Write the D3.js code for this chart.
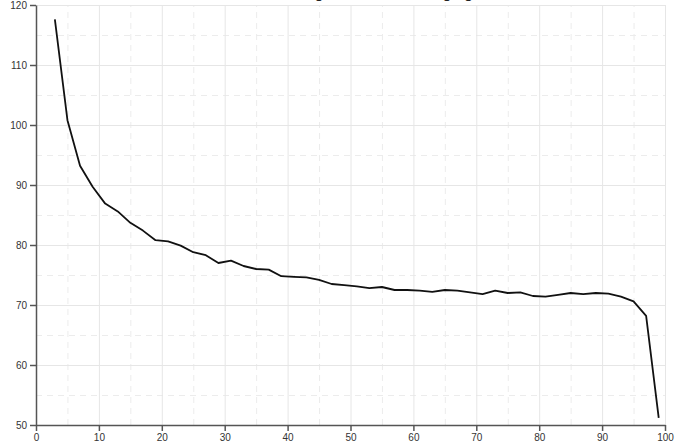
<!DOCTYPE html>
<html>
<head>
<meta charset="utf-8">
<script src="https://d3js.org/d3.v7.min.js"></script>
<style>
    body { margin: 0; background: #fff; }
    svg { display: block; font-family: "Liberation Sans", Arial, sans-serif; }
    .grid line { stroke: #e6e6e6; stroke-width: 1; }
    .grid-minor line { stroke: #ececec; stroke-width: 1; stroke-dasharray: 6,5; }
    .grid path, .grid-minor path { display: none; }
    .axis path, .axis line { stroke: #555; stroke-width: 1.5; }
    .axis text { fill: #333; font-size: 10px; }
</style>
</head>
<body>
<svg></svg>
<script>
const title = 'Resting heart rate with aging';

const xValues = [3, 5, 7, 9, 11, 13, 15, 17, 19, 21, 23, 25, 27, 29, 31, 33, 35, 37, 39, 41,
    43, 45, 47, 49, 51, 53, 55, 57, 59, 61, 63, 65, 67, 69, 71, 73, 75, 77, 79, 81,
    83, 85, 87, 89, 91, 93, 95, 97, 99];
const yValues = [117.6, 100.8, 93.2, 89.7, 86.9, 85.6, 83.7, 82.4, 80.8, 80.6, 79.9, 78.8, 78.3, 77.0, 77.4, 76.5, 76.0, 75.9, 74.8, 74.7,
    74.6, 74.2, 73.5, 73.3, 73.1, 72.8, 73.0, 72.5, 72.5, 72.4, 72.2, 72.5, 72.4, 72.1, 71.8, 72.4, 72.0, 72.1, 71.5, 71.4,
    71.7, 72.0, 71.8, 72.0, 71.9, 71.4, 70.6, 68.2, 51.2];

const xTicks = [0, 10, 20, 30, 40, 50, 60, 70, 80, 90, 100];
const xMinor = [5, 15, 25, 35, 45, 55, 65, 75, 85, 95];
const yTicks = [50, 60, 70, 80, 90, 100, 110, 120];
const yMinor = [55, 65, 75, 85, 95, 105, 115];

function drawChart() {
    const width = 682;
    const height = 447;
    const margin = { top: 5, right: 17, bottom: 22, left: 36 };

    const svg = d3.select('svg')
        .attr('width', width)
        .attr('height', height);

    const xScale = d3.scaleLinear()
        .domain([0, 100])
        .range([margin.left, width - margin.right]);

    const yScale = d3.scaleLinear()
        .domain([50, 120])
        .range([height - margin.bottom, margin.top]);

    // title sits mostly above the visible area, only descenders show
    svg.append('text')
        .attr('x', 371)
        .attr('y', -2)
        .attr('text-anchor', 'middle')
        .style('font-size', '16px')
        .style('fill', '#222')
        .text(title);

    // minor dashed grid
    svg.append('g')
        .attr('class', 'grid-minor')
        .attr('transform', `translate(0, ${height - margin.bottom})`)
        .call(d3.axisBottom(xScale)
            .tickValues(xMinor)
            .tickSize(-(height - margin.top - margin.bottom))
            .tickFormat(''));

    svg.append('g')
        .attr('class', 'grid-minor')
        .attr('transform', `translate(${margin.left}, 0)`)
        .call(d3.axisLeft(yScale)
            .tickValues(yMinor)
            .tickSize(-(width - margin.left - margin.right))
            .tickFormat(''));

    // major grid
    svg.append('g')
        .attr('class', 'grid')
        .attr('transform', `translate(0, ${height - margin.bottom})`)
        .call(d3.axisBottom(xScale)
            .tickValues(xTicks)
            .tickSize(-(height - margin.top - margin.bottom))
            .tickFormat(''));

    svg.append('g')
        .attr('class', 'grid')
        .attr('transform', `translate(${margin.left}, 0)`)
        .call(d3.axisLeft(yScale)
            .tickValues(yTicks)
            .tickSize(-(width - margin.left - margin.right))
            .tickFormat(''));

    const line = d3.line()
        .x((d, i) => xScale(xValues[i]))
        .y((d) => yScale(d));

    svg.append('path')
        .datum(yValues)
        .attr('fill', 'none')
        .attr('stroke', '#111')
        .attr('stroke-width', 1.8)
        .attr('stroke-linejoin', 'round')
        .attr('d', line);

    svg.append('g')
        .attr('class', 'axis')
        .attr('transform', `translate(0, ${height - margin.bottom})`)
        .call(d3.axisBottom(xScale).tickValues(xTicks).tickSizeOuter(0));

    svg.append('g')
        .attr('class', 'axis')
        .attr('transform', `translate(${margin.left}, 0)`)
        .call(d3.axisLeft(yScale).tickValues(yTicks).tickSizeOuter(0));
}

drawChart();
</script>
</body>
</html>
